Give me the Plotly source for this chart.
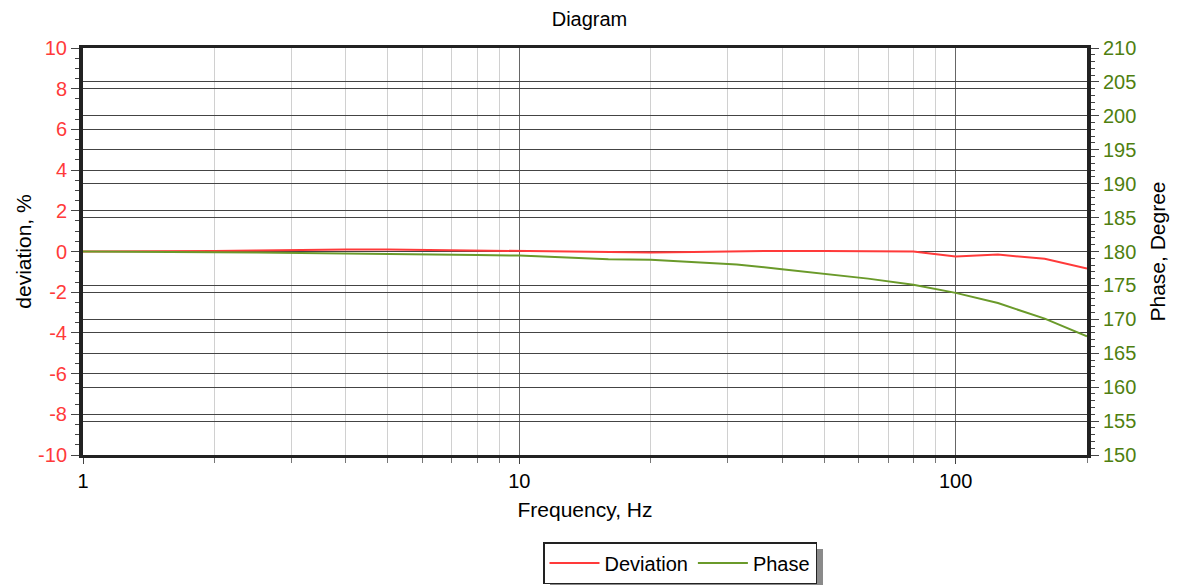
import plotly.graph_objects as go

# ---- data ----
freq = [1, 1.25, 1.6, 2, 2.5, 3.15, 4, 5, 6.3, 8, 10, 12.5, 16, 20, 25, 31.5,
        40, 50, 63, 80, 100, 125, 160, 200]
deviation = [0.0, 0.0, 0.02, 0.03, 0.05, 0.08, 0.1, 0.1, 0.08, 0.05, 0.03, 0.02,
             0.0, -0.05, -0.02, 0.02, 0.03, 0.02, 0.0, 0.0, -0.25, -0.15, -0.36, -0.84]
phase = [180.0, 180.0, 179.95, 179.9, 179.85, 179.8, 179.75, 179.7, 179.6, 179.5,
         179.4, 179.1, 178.85, 178.8, 178.5, 178.1, 177.4, 176.7, 176.0, 175.1,
         173.9, 172.4, 170.1, 167.5]
x_ticks = [1, 10, 100]
left_ticks = [-10, -8, -6, -4, -2, 0, 2, 4, 6, 8, 10]
right_ticks = [150, 155, 160, 165, 170, 175, 180, 185, 190, 195, 200, 205, 210]

FONT = "Arial, Liberation Sans, sans-serif"
RED = "#ff3a3a"
GREEN = "#6a9a2a"
GREEN_TXT = "#4f7f10"

fig = go.Figure()
fig.add_trace(go.Scatter(x=freq, y=deviation, name="Deviation", mode="lines",
                         line=dict(color=RED, width=2)))
fig.add_trace(go.Scatter(x=freq, y=phase, name="Phase", mode="lines",
                         line=dict(color=GREEN, width=2), yaxis="y2"))

fig.update_layout(
    width=1179, height=585,
    margin=dict(l=83, r=92, t=48, b=130, autoexpand=False),
    paper_bgcolor="white", plot_bgcolor="white",
    font=dict(family=FONT, color="black"),
    title=dict(text="Diagram", x=0.5, xanchor="center", yref="container",
               y=1 - 19 / 585, yanchor="middle",
               font=dict(size=20, family=FONT, color="black")),
    xaxis=dict(type="log", range=[0, 2.30103], tickvals=x_ticks,
               ticktext=[str(v) for v in x_ticks], automargin=False,
               tickfont=dict(size=20, color="black"),
               showline=True, linecolor="#222", linewidth=3, mirror=True,
               ticks="outside", ticklen=6, tickcolor="#444",
               showgrid=True, gridcolor="#666", gridwidth=1.3,
               minor=dict(dtick="D1", showgrid=True, gridcolor="#d0d0d0",
                          gridwidth=1.3, ticks="outside", ticklen=5, tickcolor="#777"),
               title=dict(text="Frequency, Hz", font=dict(size=21, color="black"),
                          standoff=12),
               zeroline=False),
    yaxis=dict(range=[-10, 10], tickvals=left_ticks,
               ticktext=[str(v) for v in left_ticks], automargin=False,
               tickfont=dict(size=20, color=RED),
               showline=True, linecolor="#222", linewidth=4,
               ticks="outside", ticklen=8, tickcolor="#444",
               minor=dict(dtick=0.5, ticks="outside", ticklen=4, tickcolor="#444"),
               showgrid=True, gridcolor="#444", gridwidth=1.4,
               zeroline=False,
               title=dict(text="deviation, %", font=dict(size=21, color="black"),
                          standoff=2)),
    yaxis2=dict(range=[150, 210], tickvals=right_ticks,
                ticktext=[str(v) for v in right_ticks],
                overlaying="y", side="right", automargin=False,
                tickfont=dict(size=20, color=GREEN_TXT),
                showline=True, linecolor="#222", linewidth=4,
                ticks="outside", ticklen=8, tickcolor="#444",
                minor=dict(dtick=1, ticks="outside", ticklen=4, tickcolor="#444"),
                showgrid=True, gridcolor="#444", gridwidth=1.4,
                zeroline=False,
                title=dict(text="Phase, Degree", font=dict(size=21, color="black"),
                           standoff=16)),
    legend=dict(orientation="h", x=(680 - 83) / 1004, xanchor="center",
                y=(455 - 542) / 407, yanchor="top",
                bgcolor="white", bordercolor="#222", borderwidth=1.5,
                font=dict(size=20, color="black"), itemwidth=50,
                traceorder="normal"),
    shapes=[dict(type="rect", xref="paper", yref="paper", layer="below",
                 x0=(550 - 83) / 1004, x1=(823 - 83) / 1004,
                 y0=(455 - 590) / 407, y1=(455 - 549) / 407,
                 fillcolor="#8a8a8a", line=dict(width=0))],
)

fig.write_html("out.html", config={"displayModeBar": False},
               post_script="document.body.style.margin='0';")
